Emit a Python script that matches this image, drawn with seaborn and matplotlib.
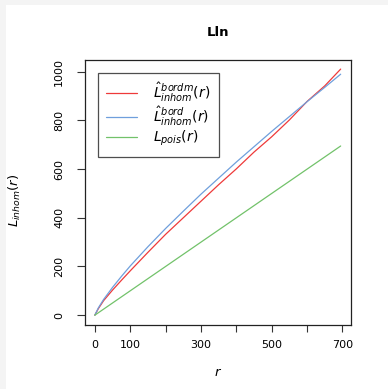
import numpy as np
import pandas as pd
import matplotlib
matplotlib.use("Agg")
import matplotlib.pyplot as plt
from matplotlib.patches import Rectangle
from matplotlib.lines import Line2D
import seaborn as sns

# ---- data ----
r_vals = [0, 10, 25, 50, 75, 100, 150, 200, 250, 300, 350, 400, 450, 500, 550, 600, 650, 695]
L_bordm = [0, 27, 60, 103, 143, 182, 258, 332, 400, 468, 536, 601, 670, 733, 802, 878, 942, 1011]
L_bord = [0, 30, 65, 114, 159, 202, 281, 356, 427, 497, 563, 629, 692, 755, 816, 877, 936, 990]
L_pois = [0, 10, 25, 50, 75, 100, 150, 200, 250, 300, 350, 400, 450, 500, 550, 600, 650, 695]

series_names = ["bordm", "bord", "pois"]
series_labels = [r"$\hat{L}_{inhom}^{bordm}(r)$", r"$\hat{L}_{inhom}^{bord}(r)$", r"$L_{pois}(r)$"]
series_colors = ["#EE3A3A", "#6F9FDC", "#72C26A"]

x_ticks = [0, 100, 200, 300, 400, 500, 600, 700]
x_ticklabels = ["0", "100", "", "300", "", "500", "", "700"]
y_ticks = [0, 200, 400, 600, 800, 1000]
y_ticklabels = ["0", "200", "400", "600", "800", "1000"]
title = "Lln"

df = pd.DataFrame({
    "r": r_vals * 3,
    "L": L_bordm + L_bord + L_pois,
    "series": [series_names[0]] * len(r_vals) + [series_names[1]] * len(r_vals) + [series_names[2]] * len(r_vals),
})

sns.set_theme(style="white")
plt.rcParams["font.family"] = ["DejaVu Sans"]
plt.rcParams["mathtext.fontset"] = "dejavusans"
plt.rcParams["text.color"] = "black"
plt.rcParams["xtick.color"] = "black"
plt.rcParams["ytick.color"] = "black"

W, H = 388, 389
fig = plt.figure(figsize=(W / 100, H / 100), dpi=100)
fig.patch.set_facecolor("#f4f4f4")
fig.add_artist(Rectangle((6 / W, 0), 1 - 6 / W, (H - 5) / H, transform=fig.transFigure,
                         facecolor="white", edgecolor="none", zorder=0))

ax_l, ax_r, ax_t, ax_b = 85, 350.5, 59.5, 325
ax = fig.add_axes([ax_l / W, 1 - ax_b / H, (ax_r - ax_l) / W, (ax_b - ax_t) / H])
ax.set_facecolor("white")

palette = dict(zip(series_names, series_colors))
sns.lineplot(data=df, x="r", y="L", hue="series", palette=palette, ax=ax,
             legend=False, linewidth=0.9, estimator=None, sort=False)

ax.set_xlim(-27.8, 722.8)
ax.set_ylim(-40.4, 1050.4)
ax.set_xticks(x_ticks)
ax.set_xticklabels(x_ticklabels)
ax.set_yticks(y_ticks)
ax.set_yticklabels(y_ticklabels, rotation=90, va="center")
ax.set_xlabel("")
ax.set_ylabel("")
for s in ax.spines.values():
    s.set_color("#222222")
    s.set_linewidth(0.9)
ax.tick_params(axis="x", direction="out", length=5, width=0.8, color="#333333",
               labelsize=8, pad=6, bottom=True, labelcolor="black")
ax.tick_params(axis="y", direction="out", length=6, width=0.8, color="#333333",
               labelsize=8, pad=9, left=True, labelcolor="black")

handles = [Line2D([0], [0], color=c, lw=0.9) for c in series_colors]
leg = ax.legend(handles, series_labels, loc="upper left", bbox_to_anchor=(0.048, 0.950),
                borderaxespad=0, frameon=True, fancybox=False, fontsize=10,
                handlelength=2.2, handletextpad=1.2, borderpad=0.6, labelspacing=0.05)
leg.get_frame().set_edgecolor("#222222")
leg.get_frame().set_linewidth(0.9)

fig.text(218 / W, 1 - 33 / H, title, ha="center", va="center", fontsize=9.5, fontweight="bold")
fig.text(218 / W, 1 - 372 / H, r"$r$", ha="center", va="center", fontsize=9.5)
fig.text(15 / W, 1 - 200 / H, r"$L_{inhom}(r)$", ha="center", va="center", fontsize=9.5, rotation=90)

fig.savefig("out.png", dpi=100, facecolor=fig.get_facecolor())
